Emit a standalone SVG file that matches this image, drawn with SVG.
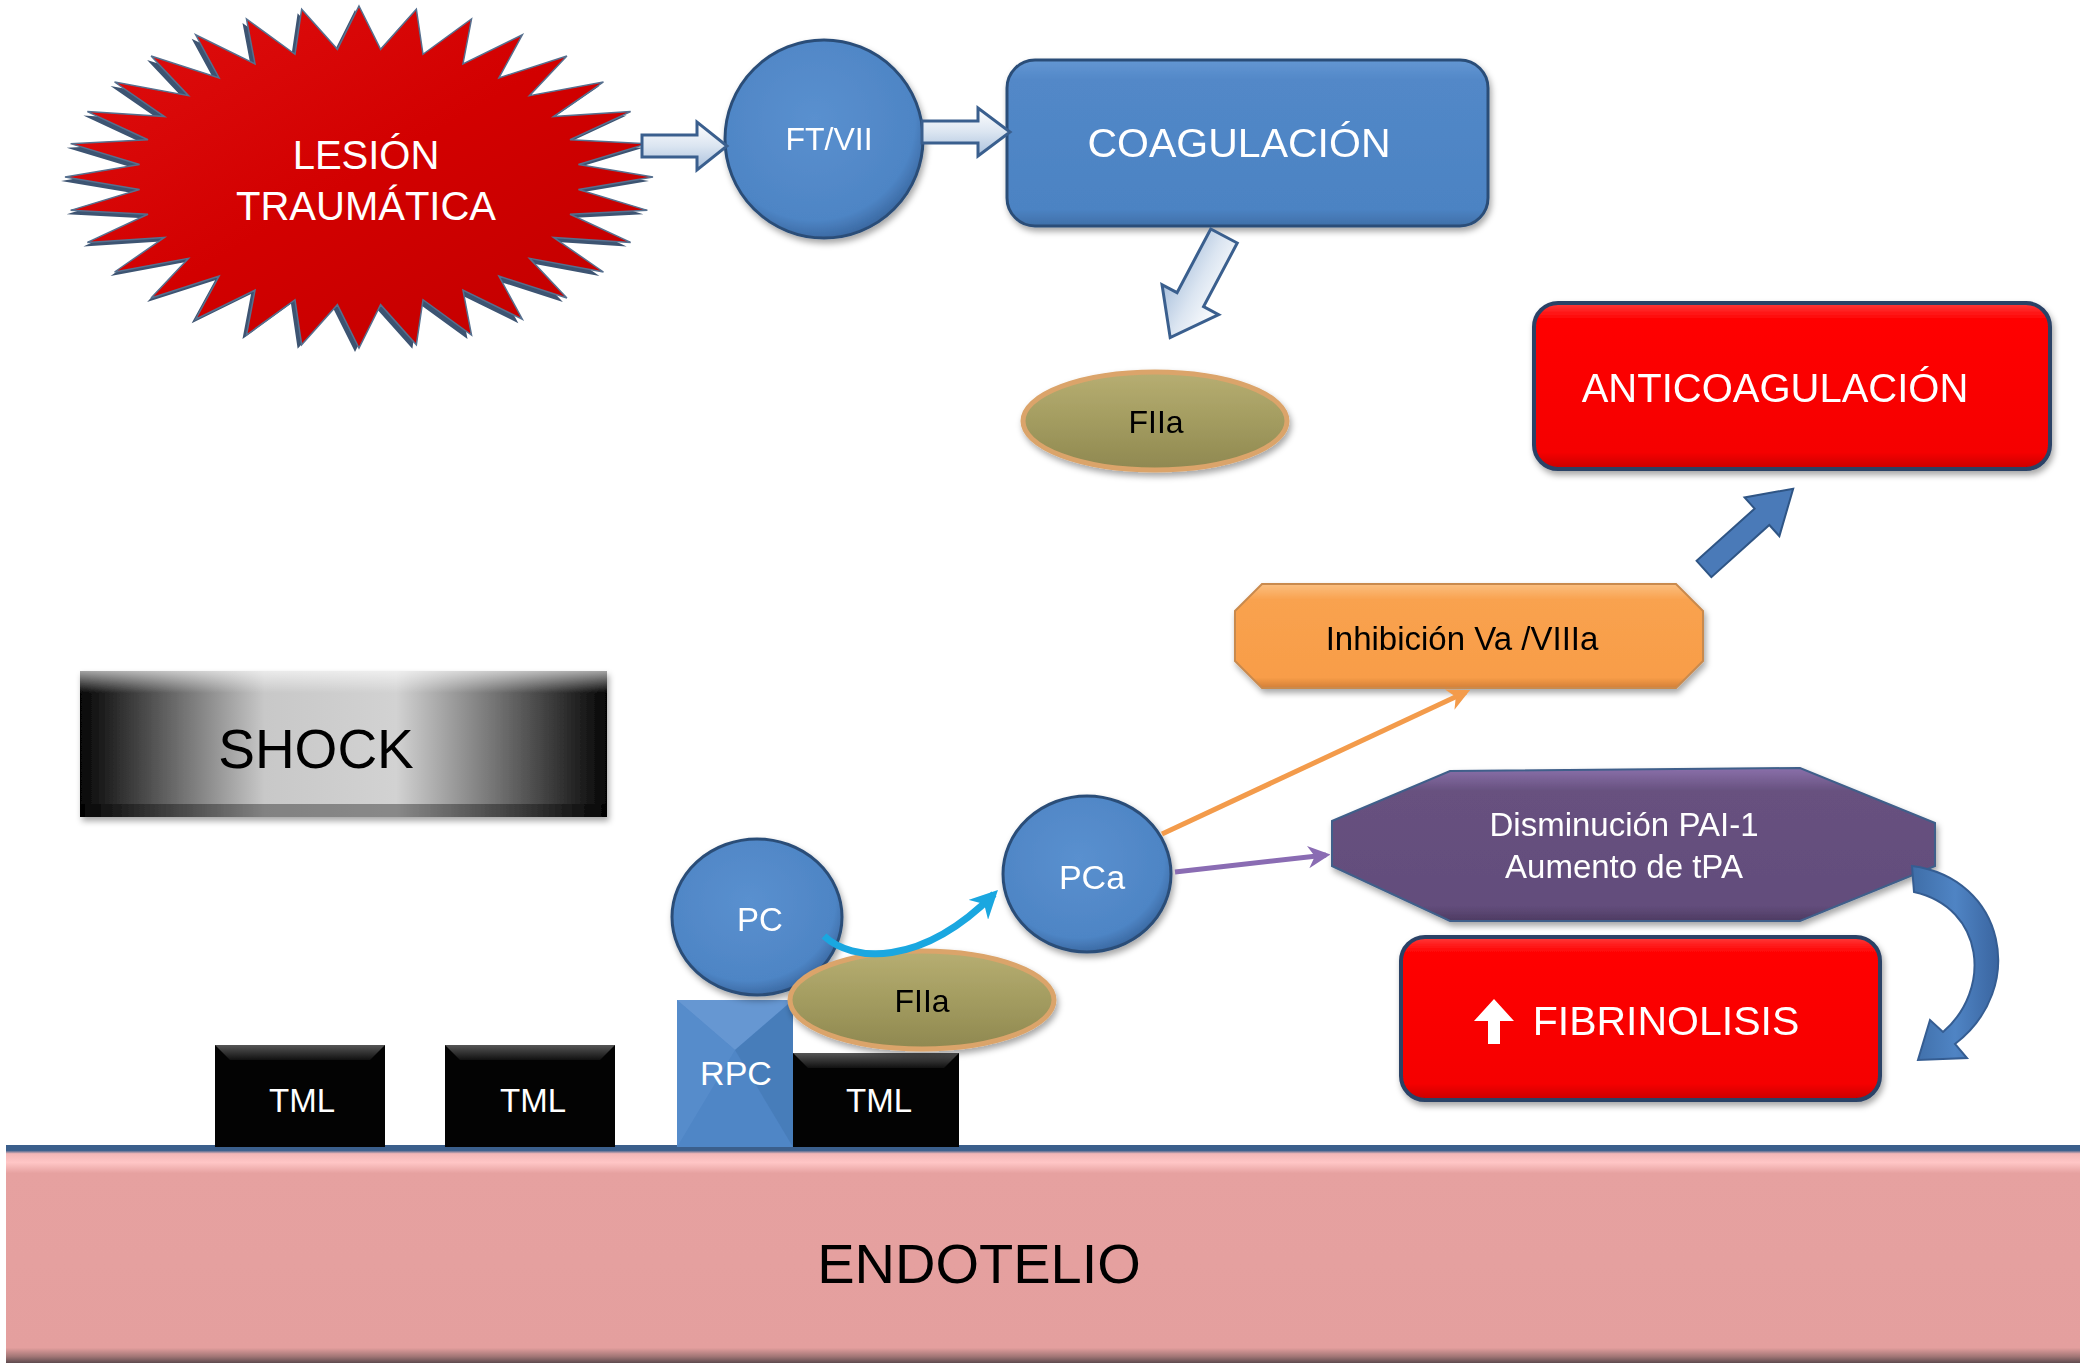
<svg xmlns="http://www.w3.org/2000/svg" width="2083" height="1364" viewBox="0 0 2083 1364">
<defs>
<filter id="sh" x="-10%" y="-10%" width="120%" height="130%"><feDropShadow dx="2" dy="4" stdDeviation="3" flood-color="#000" flood-opacity="0.35"/></filter>
<linearGradient id="gBlue" x1="0" y1="0" x2="0" y2="1"><stop offset="0" stop-color="#6497d3"/><stop offset="0.12" stop-color="#5288c8"/><stop offset="0.9" stop-color="#4c83c3"/><stop offset="1" stop-color="#3f6fa8"/></linearGradient>
<radialGradient id="gCirc" cx="0.45" cy="0.4" r="0.6"><stop offset="0" stop-color="#5a90cf"/><stop offset="0.85" stop-color="#4e85c5"/><stop offset="1" stop-color="#3c6ba5"/></radialGradient>
<linearGradient id="gRed" x1="0" y1="0" x2="0" y2="1"><stop offset="0" stop-color="#ff3a3a"/><stop offset="0.1" stop-color="#ff0000"/><stop offset="0.9" stop-color="#f50000"/><stop offset="1" stop-color="#c80000"/></linearGradient>
<linearGradient id="gStar" x1="0" y1="0" x2="1" y2="1"><stop offset="0" stop-color="#e01010"/><stop offset="0.5" stop-color="#d20000"/><stop offset="1" stop-color="#c00000"/></linearGradient>
<linearGradient id="gHollow" x1="0" y1="0" x2="0" y2="1"><stop offset="0" stop-color="#ffffff"/><stop offset="0.5" stop-color="#dbe5f1"/><stop offset="1" stop-color="#a9c0dc"/></linearGradient>
<linearGradient id="gOlive" x1="0" y1="0" x2="0" y2="1"><stop offset="0" stop-color="#b7ae72"/><stop offset="0.5" stop-color="#a39c60"/><stop offset="1" stop-color="#8f8850"/></linearGradient>
<linearGradient id="gOrange" x1="0" y1="0" x2="0" y2="1"><stop offset="0" stop-color="#fbbf80"/><stop offset="0.15" stop-color="#f9a24f"/><stop offset="0.9" stop-color="#f89d48"/><stop offset="1" stop-color="#d27f38"/></linearGradient>
<linearGradient id="gPurple" x1="0" y1="0" x2="0" y2="1"><stop offset="0" stop-color="#8a70aa"/><stop offset="0.15" stop-color="#67517f"/><stop offset="0.9" stop-color="#634d7c"/><stop offset="1" stop-color="#4d3b62"/></linearGradient>
<linearGradient id="gShock" x1="0" y1="0" x2="1" y2="0"><stop offset="0" stop-color="#050505"/><stop offset="0.18" stop-color="#6a6a6a"/><stop offset="0.35" stop-color="#c8c8c8"/><stop offset="0.6" stop-color="#d2d2d2"/><stop offset="0.8" stop-color="#6d6d6d"/><stop offset="1" stop-color="#050505"/></linearGradient>
<linearGradient id="gShockTop" x1="0" y1="0" x2="0" y2="1"><stop offset="0" stop-color="#ffffff" stop-opacity="0.9"/><stop offset="1" stop-color="#ffffff" stop-opacity="0"/></linearGradient>
<linearGradient id="gEndo" x1="0" y1="0" x2="0" y2="1"><stop offset="0" stop-color="#3b5f8c"/><stop offset="0.025" stop-color="#3b5f8c"/><stop offset="0.04" stop-color="#f2b6b6"/><stop offset="0.08" stop-color="#ffc6c6"/><stop offset="0.13" stop-color="#e6a1a0"/><stop offset="0.93" stop-color="#e49f9e"/><stop offset="0.97" stop-color="#a27676"/><stop offset="1" stop-color="#5d4a4e"/></linearGradient>
<linearGradient id="gTmlTop" x1="0" y1="0" x2="0" y2="1"><stop offset="0" stop-color="#555"/><stop offset="1" stop-color="#111"/></linearGradient>
<linearGradient id="gCurve" x1="0" y1="0" x2="1" y2="0"><stop offset="0" stop-color="#3f6ea8"/><stop offset="0.5" stop-color="#4f84c4"/><stop offset="1" stop-color="#3a65a0"/></linearGradient>
<marker id="mOrange" viewBox="0 0 10 10" refX="8" refY="5" markerWidth="4.5" markerHeight="4.5" orient="auto"><path d="M0,0 L10,5 L0,10 L3,5 Z" fill="#f39b4b"/></marker>
<marker id="mPurple" viewBox="0 0 10 10" refX="8" refY="5" markerWidth="4.5" markerHeight="4.5" orient="auto"><path d="M0,0 L10,5 L0,10 L3,5 Z" fill="#8a6cb3"/></marker>
<marker id="mCyan" viewBox="0 0 10 10" refX="8" refY="5" markerWidth="4" markerHeight="4" orient="auto"><path d="M0,0 L10,5 L0,10 L3,5 Z" fill="#1aa7e0"/></marker>
</defs>
<style>
.t{font-family:"Liberation Sans",Arial,Helvetica,sans-serif;text-anchor:middle}
.w{fill:#ffffff}
.k{fill:#000000}
.circ{fill:url(#gCirc);stroke:#2c4e78;stroke-width:3}
.olive{fill:url(#gOlive);stroke:#dba46b;stroke-width:5}
.redbox{fill:url(#gRed);stroke:#2b4266;stroke-width:4}
.hollow{fill:url(#gHollow);stroke:#3a5f8e;stroke-width:3;stroke-linejoin:miter}
.tml{fill:#030303}
</style>
<rect width="2083" height="1364" fill="#ffffff"/>

<g id="endotelio">
<rect x="6" y="1145" width="2074" height="218" fill="url(#gEndo)"/>
<text class="t k" x="979" y="1283" font-size="56">ENDOTELIO</text>
</g>

<g id="lesion">
<g transform="translate(355,181) scale(2.94,1.71)">
<path fill="#3d5472" vector-effect="non-scaling-stroke" d="M0,-100 L7.35,-74.64 L19.51,-98.08 L21.77,-71.77 L38.27,-92.39 L35.36,-66.14 L55.56,-83.15 L47.58,-57.98 L70.71,-70.71 L57.98,-47.58 L83.15,-55.56 L66.14,-35.36 L92.39,-38.27 L71.77,-21.77 L98.08,-19.51 L74.64,-7.35 L100,0 L74.64,7.35 L98.08,19.51 L71.77,21.77 L92.39,38.27 L66.14,35.36 L83.15,55.56 L57.98,47.58 L70.71,70.71 L47.58,57.98 L55.56,83.15 L35.36,66.14 L38.27,92.39 L21.77,71.77 L19.51,98.08 L7.35,74.64 L0,100 L-7.35,74.64 L-19.51,98.08 L-21.77,71.77 L-38.27,92.39 L-35.36,66.14 L-55.56,83.15 L-47.58,57.98 L-70.71,70.71 L-57.98,47.58 L-83.15,55.56 L-66.14,35.36 L-92.39,38.27 L-71.77,21.77 L-98.08,19.51 L-74.64,7.35 L-100,0 L-74.64,-7.35 L-98.08,-19.51 L-71.77,-21.77 L-92.39,-38.27 L-66.14,-35.36 L-83.15,-55.56 L-57.98,-47.58 L-70.71,-70.71 L-47.58,-57.98 L-55.56,-83.15 L-35.36,-66.14 L-38.27,-92.39 L-21.77,-71.77 L-19.51,-98.08 L-7.35,-74.64 Z"/>
</g>
<g transform="translate(359,177) scale(2.94,1.71)">
<path fill="url(#gStar)" stroke="#56708f" stroke-width="1.5" vector-effect="non-scaling-stroke" d="M0,-100 L7.35,-74.64 L19.51,-98.08 L21.77,-71.77 L38.27,-92.39 L35.36,-66.14 L55.56,-83.15 L47.58,-57.98 L70.71,-70.71 L57.98,-47.58 L83.15,-55.56 L66.14,-35.36 L92.39,-38.27 L71.77,-21.77 L98.08,-19.51 L74.64,-7.35 L100,0 L74.64,7.35 L98.08,19.51 L71.77,21.77 L92.39,38.27 L66.14,35.36 L83.15,55.56 L57.98,47.58 L70.71,70.71 L47.58,57.98 L55.56,83.15 L35.36,66.14 L38.27,92.39 L21.77,71.77 L19.51,98.08 L7.35,74.64 L0,100 L-7.35,74.64 L-19.51,98.08 L-21.77,71.77 L-38.27,92.39 L-35.36,66.14 L-55.56,83.15 L-47.58,57.98 L-70.71,70.71 L-57.98,47.58 L-83.15,55.56 L-66.14,35.36 L-92.39,38.27 L-71.77,21.77 L-98.08,19.51 L-74.64,7.35 L-100,0 L-74.64,-7.35 L-98.08,-19.51 L-71.77,-21.77 L-92.39,-38.27 L-66.14,-35.36 L-83.15,-55.56 L-57.98,-47.58 L-70.71,-70.71 L-47.58,-57.98 L-55.56,-83.15 L-35.36,-66.14 L-38.27,-92.39 L-21.77,-71.77 L-19.51,-98.08 L-7.35,-74.64 Z"/>
</g>
<text class="t w" x="366" y="169" font-size="40">LESIÓN</text>
<text class="t w" x="366" y="220" font-size="40">TRAUMÁTICA</text>
</g>

<g id="ftvii" filter="url(#sh)">
<ellipse class="circ" cx="824" cy="139" rx="99" ry="99"/>
<text class="t w" x="829" y="150" font-size="32">FT/VII</text>
</g>

<g id="coagulacion" filter="url(#sh)">
<rect x="1007" y="60" width="481" height="166" rx="28" fill="url(#gBlue)" stroke="#2c4e78" stroke-width="3"/>
<text class="t w" x="1239" y="157" font-size="41">COAGULACIÓN</text>
</g>

<g id="fiia-top" filter="url(#sh)">
<ellipse class="olive" cx="1155" cy="421" rx="132" ry="49"/>
<text class="t k" x="1156" y="433" font-size="32">FIIa</text>
</g>

<g id="anticoagulacion" filter="url(#sh)">
<rect class="redbox" x="1534" y="303" width="516" height="166" rx="24"/>
<text class="t w" x="1775" y="402" font-size="40">ANTICOAGULACIÓN</text>
</g>

<g id="inhibicion" filter="url(#sh)">
<path d="M1262,584 L1676,584 L1703,611 L1703,661 L1676,688 L1262,688 L1235,661 L1235,611 Z" fill="url(#gOrange)" stroke="#c98a4e" stroke-width="2"/>
<text class="t k" x="1462" y="650" font-size="33">Inhibición Va /VIIIa</text>
</g>

<g id="disminucion" filter="url(#sh)">
<path d="M1332,821 L1450,771 L1800,768 L1935,823 L1935,866 L1800,921 L1450,921 L1332,866 Z" fill="url(#gPurple)" stroke="#3f5f8a" stroke-width="2"/>
<text class="t w" x="1624" y="836" font-size="33">Disminución PAI-1</text>
<text class="t w" x="1624" y="878" font-size="33">Aumento de tPA</text>
</g>

<g id="fibrinolisis" filter="url(#sh)">
<rect class="redbox" x="1401" y="937" width="479" height="163" rx="24"/>
<path d="M1494,999 L1514,1021 L1500,1021 L1500,1044 L1488,1044 L1488,1021 L1474,1021 Z" fill="#ffffff"/>
<text class="t w" x="1666" y="1035" font-size="41">FIBRINOLISIS</text>
</g>

<g id="shock" filter="url(#sh)">
<rect x="80" y="671" width="527" height="146" fill="url(#gShock)"/>
<rect x="80" y="671" width="527" height="22" fill="url(#gShockTop)" opacity="0.7"/>
<rect x="80" y="804" width="527" height="13" fill="#000" opacity="0.35"/>
<text class="t k" x="316" y="768" font-size="55">SHOCK</text>
</g>

<g id="tml1">
<rect class="tml" x="215" y="1045" width="170" height="102"/>
<path d="M215,1045 L385,1045 L370,1060 L230,1060 Z" fill="url(#gTmlTop)"/>
<text class="t w" x="302" y="1112" font-size="33">TML</text>
</g>

<g id="tml2">
<rect class="tml" x="445" y="1045" width="170" height="102"/>
<path d="M445,1045 L615,1045 L600,1060 L460,1060 Z" fill="url(#gTmlTop)"/>
<text class="t w" x="533" y="1112" font-size="33">TML</text>
</g>

<g id="tml3">
<rect class="tml" x="793" y="1053" width="166" height="94"/>
<path d="M793,1053 L959,1053 L944,1068 L808,1068 Z" fill="url(#gTmlTop)"/>
<text class="t w" x="879" y="1112" font-size="33">TML</text>
</g>

<g id="rpc">
<rect x="677" y="1000" width="116" height="147" fill="#4f86c6"/>
<path d="M677,1000 L793,1000 L735,1050 Z" fill="#6c9bd4" opacity="0.8"/>
<path d="M677,1000 L735,1050 L677,1147 Z" fill="#5a8fcd" opacity="0.7"/>
<path d="M793,1000 L735,1050 L793,1147 Z" fill="#4579b5" opacity="0.7"/>
<text class="t w" x="736" y="1085" font-size="34">RPC</text>
</g>

<g id="pc" filter="url(#sh)">
<ellipse class="circ" cx="757" cy="917" rx="85" ry="78"/>
<text class="t w" x="760" y="931" font-size="33">PC</text>
</g>

<g id="fiia-bottom" filter="url(#sh)">
<ellipse class="olive" cx="922" cy="1000" rx="132" ry="49"/>
<text class="t k" x="922" y="1012" font-size="32">FIIa</text>
</g>

<g id="pca" filter="url(#sh)">
<ellipse class="circ" cx="1087" cy="874" rx="84" ry="78"/>
<text class="t w" x="1092" y="889" font-size="34">PCa</text>
</g>

<g id="connectors">
<path class="hollow" d="M642,135 L697,135 L697,122 L727,146 L697,170 L697,157 L642,157 Z"/>
<path class="hollow" d="M922,121 L978,121 L978,108 L1010,132 L978,156 L978,143 L922,143 Z"/>
<path class="hollow" transform="translate(1224,236) rotate(117.9)" d="M0,-15 L72,-15 L72,-32 L115,0 L72,32 L72,15 L0,15 Z"/>
<path transform="translate(1704,569) rotate(-42)" d="M0,-11 L78,-11 L78,-26 L120,0 L78,26 L78,11 L0,11 Z" fill="#4a7ab8" stroke="#2f5585" stroke-width="2"/>
<line x1="1162" y1="834" x2="1466" y2="692" stroke="#f39b4b" stroke-width="5" marker-end="url(#mOrange)"/>
<line x1="1175" y1="872" x2="1326" y2="855" stroke="#8a6cb3" stroke-width="5" marker-end="url(#mPurple)"/>
<path d="M824,936 C852,962 920,968 994,894" fill="none" stroke="#1aa7e0" stroke-width="7" marker-end="url(#mCyan)"/>
<path d="M1912,866 C2005,878 2028,988 1955,1044 L1967,1058 L1918,1060 L1930,1020 L1943,1032 C1992,990 1985,908 1914,892 Z" fill="url(#gCurve)" stroke="#355d92" stroke-width="2"/>
</g>
</svg>
